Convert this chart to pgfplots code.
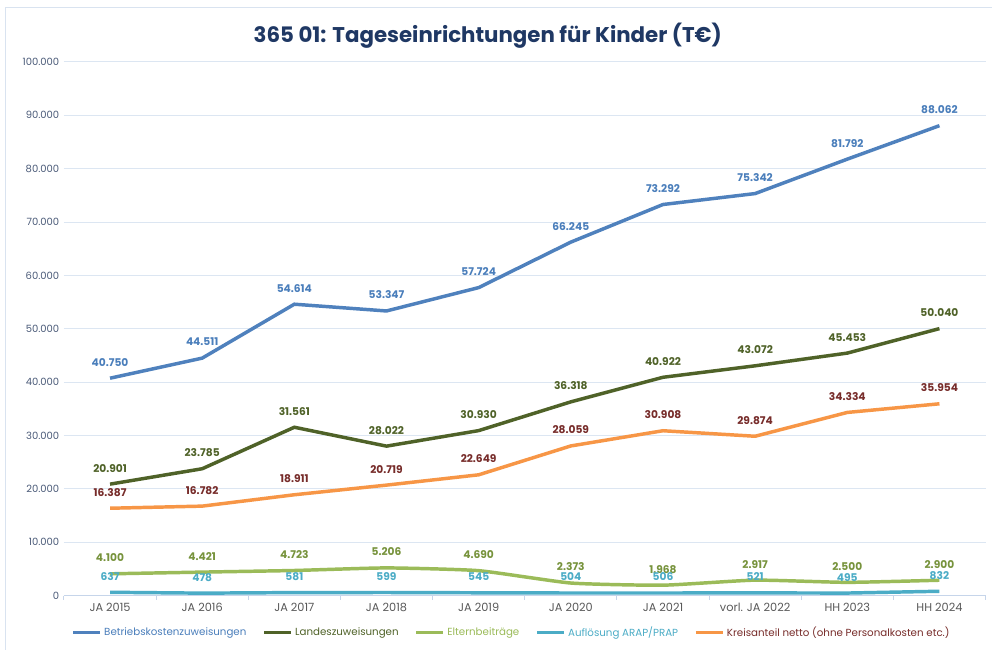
\documentclass[border=0pt]{standalone}
\usepackage{pgfplots}
\pgfplotsset{compat=1.18}
\usepackage{fontspec}
\setmainfont{Poppins}
\definecolor{cBlue}{HTML}{4F81BD}
\definecolor{cBlueLab}{HTML}{4A7EBB}
\definecolor{cDark}{HTML}{4F6228}
\definecolor{cLight}{HTML}{9BBB59}
\definecolor{cLightLab}{HTML}{77933C}
\definecolor{cCyan}{HTML}{4BACC6}
\definecolor{cOrange}{HTML}{F79646}
\definecolor{cRed}{HTML}{772C2A}
\definecolor{gridcol}{HTML}{DCE6F2}
\definecolor{axiscol}{HTML}{C6D5EA}
\definecolor{bordercol}{HTML}{D9E3F0}
\definecolor{titlecol}{HTML}{1F3864}
\definecolor{ytickcol}{HTML}{4A5A78}
\definecolor{xtickcol}{HTML}{595959}
\begin{document}
\begin{tikzpicture}[x=1pt,y=1pt]
\fill[white] (0,0) rectangle (744,487.5);
\draw[bordercol, line width=0.75pt] (4.5,0) -- (4.5,481.5) -- (744,481.5);
\node[font=\bfseries\fontsize{16}{19}\selectfont, text=titlecol] at (366,461) {365 01: Tageseinrichtungen für Kinder (T€)};
\begin{axis}[
  at={(48pt,40.5pt)}, anchor=south west, scale only axis,
  width=691.5pt, height=400.5pt,
  xmin=-0.5, xmax=9.5, ymin=0, ymax=100000,
  xtick={0,...,9},
  xticklabels={JA 2015,JA 2016,JA 2017,JA 2018,JA 2019,JA 2020,JA 2021,vorl. JA 2022,HH 2023,HH 2024},
  minor xtick={-0.5,0.5,...,9.5},
  ytick={0,10000,...,100000},
  scaled y ticks=false,
  ymajorgrids, grid style={gridcol, line width=0.75pt},
  axis x line*=bottom, axis y line*=left,
  y axis line style={draw=none},
  x axis line style={axiscol, line width=0.75pt, -},
  major tick length=0pt, minor tick length=3pt,
  minor tick style={axiscol, line width=0.75pt}, tick align=outside,
  yticklabel style={font=\fontsize{7.5}{8.5}\selectfont, text=ytickcol},
  xticklabel style={font=\fontsize{8.5}{10}\selectfont, text=xtickcol, yshift=-2pt},
  /pgf/number format/fixed,
  /pgf/number format/precision=0,
  /pgf/number format/1000 sep={.},
  /pgf/number format/assume math mode=true,
  point meta=y,
  nodes near coords={\pgfmathprintnumber{\pgfplotspointmeta}},
  nodes near coords style={font=\bfseries\fontsize{8}{9}\selectfont, anchor=center, yshift=12pt},
  legend columns=5,
  legend style={draw=none, fill=none, at={(0.486,-0.069)}, anchor=center,
    font=\fontsize{7.7}{9}\selectfont,
    /tikz/every even column/.append style={column sep=10pt}},
  legend image code/.code={\draw[#1, line width=2.6pt] (0pt,0pt) -- (20pt,0pt);},
  every axis plot/.append style={line width=2.6pt, mark=none},
]
\addplot[cBlue, every node near coord/.append style={text=cBlueLab}] coordinates {
 (0,40750) (1,44511) (2,54614) (3,53347) (4,57724) (5,66245) (6,73292) (7,75342) (8,81792) (9,88062)};
\addlegendentry{\textcolor{cBlueLab}{Betriebskostenzuweisungen}}
\addplot[cDark, every node near coord/.append style={text=cDark}] coordinates {
 (0,20901) (1,23785) (2,31561) (3,28022) (4,30930) (5,36318) (6,40922) (7,43072) (8,45453) (9,50040)};
\addlegendentry{\textcolor{cDark}{Landeszuweisungen}}
\addplot[cLight, smooth, tension=0.3, every node near coord/.append style={text=cLightLab}] coordinates {
 (0,4100) (1,4421) (2,4723) (3,5206) (4,4690) (5,2373) (6,1968) (7,2917) (8,2500) (9,2900)};
\addlegendentry{\textcolor{cLight}{Elternbeiträge}}
\addplot[cCyan, every node near coord/.append style={text=cCyan}] coordinates {
 (0,637) (1,478) (2,581) (3,599) (4,545) (5,504) (6,506) (7,521) (8,495) (9,832)};
\addlegendentry{\textcolor{cCyan}{Auflösung ARAP/PRAP}}
\addplot[cOrange, every node near coord/.append style={text=cRed}] coordinates {
 (0,16387) (1,16782) (2,18911) (3,20719) (4,22649) (5,28059) (6,30908) (7,29874) (8,34334) (9,35954)};
\addlegendentry{\textcolor{cRed}{Kreisanteil netto (ohne Personalkosten etc.)}}
\end{axis}
\end{tikzpicture}
\end{document}
